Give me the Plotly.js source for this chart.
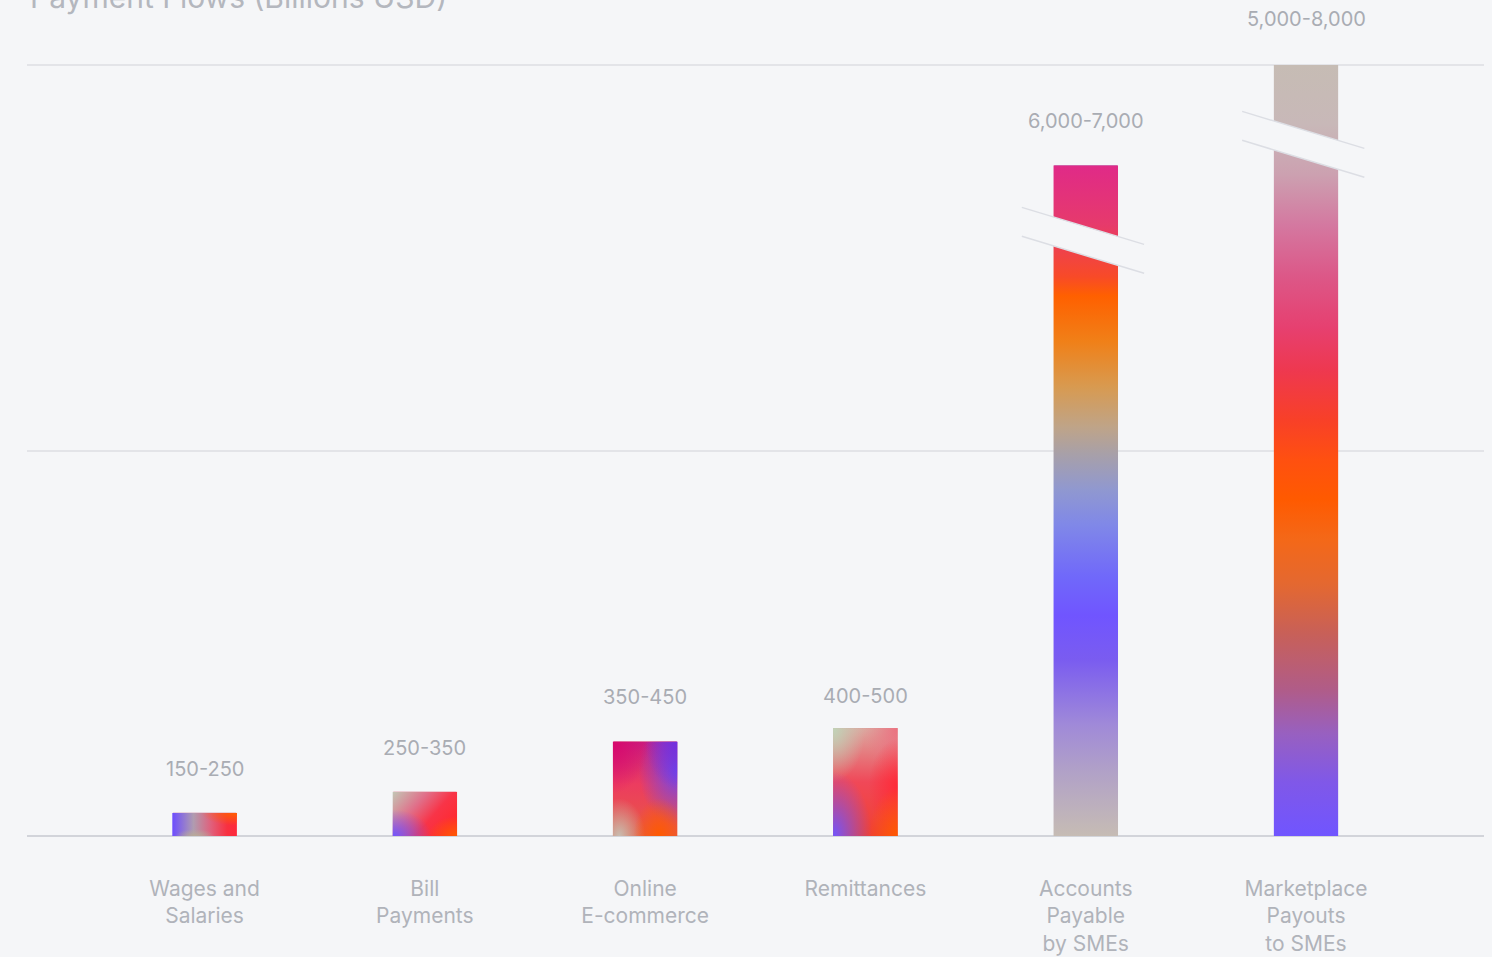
<!DOCTYPE html>
<html>
<head>
<meta charset="utf-8">
<script src="https://cdn.plot.ly/plotly-3.0.1.min.js"></script>
<style>
  html, body { margin: 0; padding: 0; background: #f5f6f8; }
  #chart { width: 1492px; height: 957px; }
</style>
</head>
<body>
<div id="chart"></div>
<script>
// ---- data ----
const categories = [
  "Wages and<br>Salaries",
  "Bill<br>Payments",
  "Online<br>E-commerce",
  "Remittances",
  "Accounts<br>Payable<br>by SMEs",
  "Marketplace<br>Payouts<br>to SMEs"
];
// value ranges shown above each bar (Billions USD)
const rangeLabels = ["150-250", "250-350", "350-450", "400-500", "6,000-7,000", "5,000-8,000"];
// drawn bar heights, read off the (broken, non-linear) axis of the picture
const barHeights = [60, 115, 245, 280, 1740, 2000];
// bars drawn with an axis break
const brokenBars = [false, false, false, false, true, true];
const titleText = "Payment Flows (Billions USD)";

// ---- style ----
const BG = "#f5f6f8";
const TEXT = "#b0b3ba";
const FONT = "Inter, 'Open Sans', sans-serif";
const BAR_W = 0.286;
const solidColors = ["#c87090", "#e0607a", "#e04870", "#e85868", "#a898c8", "#b8a0b0"];

const gradients = [
  { lin: [0, 0.5, 1, 0.5], stops: [[0, "#6c4cff"], [0.33, "#b09cb0"], [0.6, "#e0607c"], [0.85, "#f83040"], [1, "#ff2a3c"]],
    rad: [[1, 0, 0.55, "#ff6000"], [0.35, 1, 0.3, "#b8aa98"]] },
  { lin: [0, 0, 1, 0.6], stops: [[0, "#c2c8b6"], [0.4, "#e0708a"], [0.7, "#f83448"], [1, "#ff2a30"]],
    rad: [[0, 1, 0.6, "#6f55ff"], [1, 1, 0.45, "#ff5a00"]] },
  { lin: [0, 0, 0, 1], stops: [[0, "#c81c80"], [0.45, "#ec3c60"], [1, "#e85a40"]],
    rad: [[1, 0.3, 0.6, "#6c48f0"], [1, 0, 0.5, "#7030e0"], [0, 0, 0.55, "#d8086c"], [0.1, 1, 0.4, "#c8bcb0"], [0.72, 1, 0.4, "#ff5a00"]] },
  { lin: [0, 0, 0, 1], stops: [[0, "#dca8a0"], [0.5, "#f04858"], [1, "#f04030"]],
    rad: [[0, 0, 0.5, "#c0d4b8"], [1, 0, 0.5, "#ec7080"], [1, 0.55, 0.45, "#ff2a38"], [0, 1, 0.6, "#7055ff"], [1, 1, 0.45, "#ff5a00"]] },
  { lin: [0, 0, 0, 1], stops: [[0, "#e02a88"], [0.088, "#e63a6c"], [0.166, "#f84a28"], [0.195, "#ff6000"], [0.263, "#f08018"],
      [0.33, "#d89a50"], [0.39, "#bfa488"], [0.43, "#a8a0a8"], [0.484, "#9098d0"], [0.536, "#8088e8"], [0.614, "#7068fa"],
      [0.672, "#7055ff"], [0.737, "#7a5cf0"], [0.835, "#a08ad8"], [0.9, "#b0a0c8"], [1, "#c6bcb4"]], rad: [] },
  { lin: [0, 0, 0, 1], stops: [[0, "#c6bcb4"], [0.077, "#c8b8b8"], [0.143, "#cca0b0"], [0.208, "#d478a0"], [0.273, "#dc5888"],
      [0.34, "#e64070"], [0.395, "#ee3850"], [0.46, "#f84028"], [0.512, "#ff5010"], [0.563, "#ff5a00"], [0.615, "#f46818"],
      [0.673, "#e46830"], [0.737, "#c86058"], [0.81, "#b05c88"], [0.867, "#9860c0"], [0.93, "#8058e8"], [1, "#7055ff"]], rad: [] }
];

function gradientUri(g) {
  let defs = `<linearGradient id="b" x1="${g.lin[0]}" y1="${g.lin[1]}" x2="${g.lin[2]}" y2="${g.lin[3]}">` +
    g.stops.map(s => `<stop offset="${s[0]}" stop-color="${s[1]}"/>`).join("") + `</linearGradient>`;
  let rects = `<rect x="0" y="0" width="100" height="100" fill="url(#b)"/>`;
  g.rad.forEach((r, k) => {
    defs += `<radialGradient id="r${k}" cx="${r[0]}" cy="${r[1]}" r="${r[2]}">` +
      `<stop offset="0" stop-color="${r[3]}" stop-opacity="1"/><stop offset="1" stop-color="${r[3]}" stop-opacity="0"/></radialGradient>`;
    rects += `<rect x="0" y="0" width="100" height="100" fill="url(#r${k})"/>`;
  });
  const svg = `<svg xmlns="http://www.w3.org/2000/svg" width="100" height="100" viewBox="0 0 100 100" preserveAspectRatio="none"><defs>${defs}</defs>${rects}</svg>`;
  return "data:image/svg+xml;charset=utf-8," + encodeURIComponent(svg);
}

const xIdx = categories.map((_, i) => i);

const trace = {
  type: "bar",
  x: xIdx,
  y: barHeights,
  width: BAR_W,
  marker: { color: solidColors, line: { width: 0 } },
  hoverinfo: "skip",
  showlegend: false
};

// gradient fill drawn over each bar (slightly wider to hide anti-aliased edges)
const PAD = 0.004;
const images = barHeights.map((v, i) => ({
  source: gradientUri(gradients[i]),
  xref: "x", yref: "y",
  x: xIdx[i] - BAR_W / 2 - PAD, y: v,
  sizex: BAR_W + 2 * PAD, sizey: v,
  xanchor: "left", yanchor: "top",
  sizing: "stretch", layer: "above"
}));

const labelShift = [44, 44, 45, 32, 44, 46];
const annotations = barHeights.map((v, i) => ({
  x: xIdx[i], y: v, xref: "x", yref: "y",
  text: rangeLabels[i], showarrow: false,
  yanchor: "middle", yshift: labelShift[i],
  font: { family: FONT, size: 20, color: "#a9acb3" }
}));
annotations.push({
  x: 0, y: 1.0855, xref: "paper", yref: "paper",
  xanchor: "left", yanchor: "middle", xshift: 1,
  text: titleText, showarrow: false,
  font: { family: FONT, size: 30, color: "#b4b7be" }
});

// axis-break markers (background-coloured gap with two thin diagonal lines)
const shapes = [];
const breakCenter = { 4: 1543, 5: 1792 };
const GAP = 37.5, SLOPE = 173, XL = 0.29, XR = 0.265;
brokenBars.forEach((b, i) => {
  if (!b) return;
  const c = breakCenter[i];
  const yl = (dx) => c - SLOPE * dx;
  const xa = xIdx[i] - XL, xb = xIdx[i] + XR;
  shapes.push({
    type: "path", xref: "x", yref: "y", layer: "above",
    path: `M ${xa},${yl(-XL) + GAP} L ${xb},${yl(XR) + GAP} L ${xb},${yl(XR) - GAP} L ${xa},${yl(-XL) - GAP} Z`,
    fillcolor: BG, line: { width: 0 }
  });
  [GAP, -GAP].forEach(o => shapes.push({
    type: "line", xref: "x", yref: "y", layer: "above",
    x0: xa, y0: yl(-XL) + o, x1: xb, y1: yl(XR) + o,
    line: { color: "#dcdee4", width: 1.5 }
  }));
});

const layout = {
  width: 1492, height: 957,
  paper_bgcolor: BG, plot_bgcolor: BG,
  margin: { l: 27, r: 8, t: 63, b: 119 },
  showlegend: false,
  xaxis: {
    range: [-0.806, 5.808],
    tickmode: "array", tickvals: xIdx, ticktext: categories,
    showgrid: false, zeroline: false, showline: false, ticks: "",
    ticklabelstandoff: 36,
    tickfont: { family: FONT, size: 21, color: TEXT },
    fixedrange: true
  },
  yaxis: {
    range: [-5.19, 2005.19],
    tickmode: "array", tickvals: [0, 1000, 2000],
    showticklabels: false, ticks: "",
    showgrid: true, gridcolor: "#e3e4e8", gridwidth: 2,
    zeroline: true, zerolinecolor: "#d2d4da", zerolinewidth: 2,
    showline: false, fixedrange: true
  },
  images: images,
  annotations: annotations,
  shapes: shapes
};

Plotly.newPlot("chart", [trace], layout, { displayModeBar: false, staticPlot: true });
</script>
</body>
</html>
